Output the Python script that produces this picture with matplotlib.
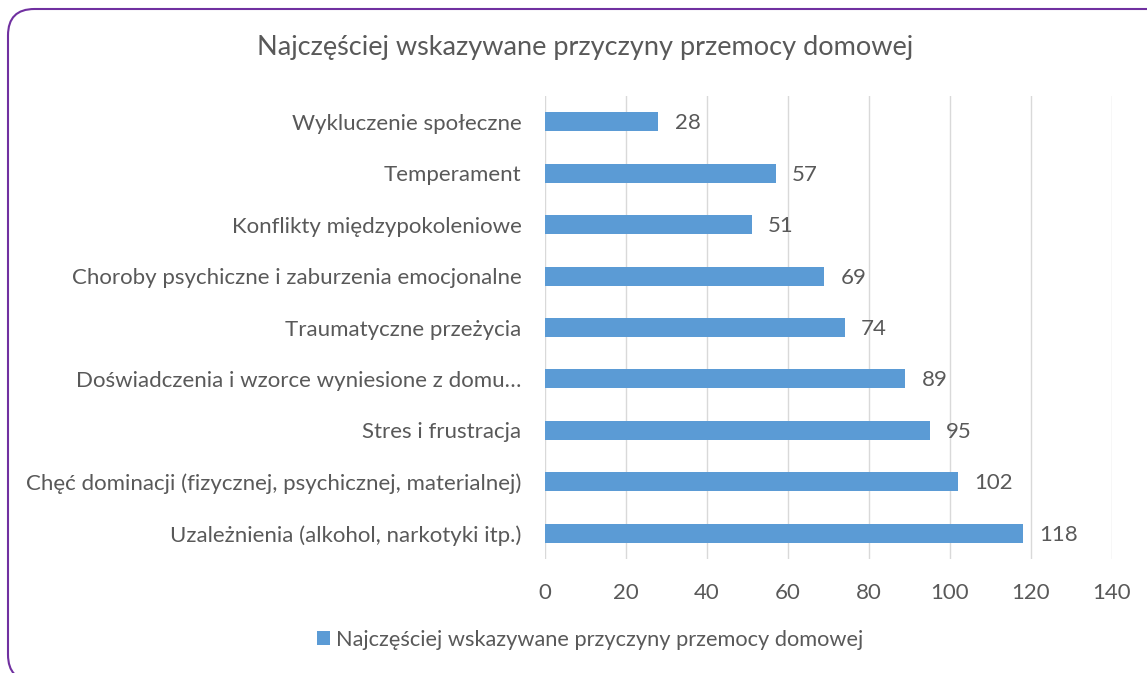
import matplotlib
matplotlib.use("Agg")
import matplotlib.pyplot as plt
from matplotlib.patches import FancyBboxPatch

plt.rcParams['font.family'] = ['Lato', 'DejaVu Sans']

# Data (top to bottom as shown in the chart)
categories = [
    "Wykluczenie społeczne",
    "Temperament",
    "Konflikty międzypokoleniowe",
    "Choroby psychiczne i zaburzenia emocjonalne",
    "Traumatyczne przeżycia",
    "Doświadczenia i wzorce wyniesione z domu…",
    "Stres i frustracja",
    "Chęć dominacji (fizycznej, psychicznej, materialnej)",
    "Uzależnienia (alkohol, narkotyki itp.)",
]
values = [28, 57, 51, 69, 74, 89, 95, 102, 118]
xticks = [0, 20, 40, 60, 80, 100, 120, 140]
title = "Najczęściej wskazywane przyczyny przemocy domowej"
series_name = "Najczęściej wskazywane przyczyny przemocy domowej"

W, H = 1147, 673
fig = plt.figure(figsize=(W / 100, H / 100), dpi=100)

# rounded purple frame, running off the right and bottom edges
frame = FancyBboxPatch((8 / W, -8 / H), 1.2, (H - 9 + 8) / H,
                       boxstyle="round,pad=0,rounding_size=0.023",
                       transform=fig.transFigure, fill=False,
                       edgecolor="#7030A0", linewidth=1.5, mutation_aspect=W / H)
fig.patches.append(frame)

ax = fig.add_axes([545 / W, 1 - 559 / H, (1112 - 545) / W, (559 - 96) / H])
text_col = "#595959"
fs = 16
pos = list(range(len(categories)))[::-1]
bars = ax.barh(pos, values, height=0.37, color="#5B9BD5", zorder=3)
for p, v in zip(pos, values):
    ax.text(v + 4, p - 0.03, str(v), va="center", ha="left", fontsize=fs,
            color=text_col)

ax.set_xlim(0, 140)
ax.set_ylim(-0.5, len(categories) - 0.5)
ax.set_xticks(xticks)
ax.set_xticklabels([str(t) for t in xticks], fontsize=fs, color=text_col)
ax.set_yticks(pos)
ax.set_yticklabels(categories, fontsize=fs, color=text_col)
ax.tick_params(axis="both", length=0)
ax.tick_params(axis="x", pad=17)
ax.tick_params(axis="y", pad=17)
ax.grid(axis="x", color="#D9D9D9", linewidth=1, zorder=0)
for s in ax.spines.values():
    s.set_visible(False)

fig.text(585 / W, 1 - 48 / H, title, ha="center", va="center",
         fontsize=19.5, color=text_col)

leg = fig.legend([bars], [series_name], loc="center", ncol=1,
                 bbox_to_anchor=(590 / W, 1 - 640 / H), frameon=False,
                 fontsize=15.7, handlelength=0.6, handleheight=0.6,
                 handletextpad=0.25)
for t in leg.get_texts():
    t.set_color(text_col)

fig.savefig("out.png", dpi=100)
